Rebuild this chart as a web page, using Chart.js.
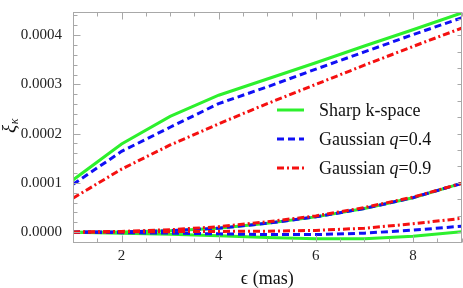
<!DOCTYPE html>
<html><head><meta charset="utf-8">
<script src="https://cdn.jsdelivr.net/npm/chart.js@4.4.1/dist/chart.umd.min.js"></script>
<style>html,body{margin:0;padding:0;background:#fff;overflow:hidden}#wrap{width:463px;height:288px}</style>
</head><body><div id="wrap"><canvas id="c" width="463" height="288"></canvas></div>
<script>
// ---- data ----
const epsilon = [1, 2, 3, 4, 5, 6, 7, 8, 9];
// upper branch
const sharpUpper = [1.06e-4, 1.79e-4, 2.35e-4, 2.78e-4, 3.11e-4, 3.44e-4, 3.78e-4, 4.11e-4, 4.45e-4];
const gaussQ04Upper = [0.97e-4, 1.64e-4, 2.13e-4, 2.61e-4, 2.95e-4, 3.31e-4, 3.66e-4, 4.01e-4, 4.35e-4];
const gaussQ09Upper = [0.69e-4, 1.28e-4, 1.77e-4, 2.20e-4, 2.61e-4, 3.00e-4, 3.39e-4, 3.77e-4, 4.14e-4];
// rising lower branch
const sharpRise = [0, 0.05e-5, 0.3e-5, 0.8e-5, 1.8e-5, 3.1e-5, 4.8e-5, 7.0e-5, 9.9e-5];
const gaussQ04Rise = [0, 0.05e-5, 0.3e-5, 0.8e-5, 1.8e-5, 3.1e-5, 4.8e-5, 7.0e-5, 9.9e-5];
const gaussQ09Rise = [0, 0.15e-5, 0.5e-5, 1.1e-5, 2.1e-5, 3.3e-5, 5.0e-5, 7.1e-5, 9.9e-5];
// flat lower branch
const sharpFlat = [0, -0.2e-5, -0.45e-5, -0.75e-5, -1.1e-5, -1.35e-5, -1.35e-5, -0.85e-5, 0.1e-5];
const gaussQ04Flat = [0, -0.1e-5, -0.2e-5, -0.35e-5, -0.5e-5, -0.5e-5, -0.2e-5, 0.4e-5, 1.2e-5];
const gaussQ09Flat = [0, 0.05e-5, 0.1e-5, 0.15e-5, 0.2e-5, 0.35e-5, 0.8e-5, 1.7e-5, 2.8e-5];

const xTicks = [2, 4, 6, 8];
const yTicks = [0, 0.0001, 0.0002, 0.0003, 0.0004];
const xRange = [1, 9];
const yRange = [-0.00002, 0.000447];
const xTitle = 'ϵ (mas)';
const yTitleMain = 'ξ';
const yTitleSub = 'κ';
const legendParts = [
  [{t: 'Sharp k-space'}],
  [{t: 'Gaussian '}, {t: 'q', i: true}, {t: '=0.4'}],
  [{t: 'Gaussian '}, {t: 'q', i: true}, {t: '=0.9'}]
];

// ---- styles ----
const GREEN = '#2df02d', BLUE = '#1010f5', RED = '#f51010';
const styles = [
  {color: GREEN, dash: [], order: 3},
  {color: BLUE, dash: [7, 4], order: 2},
  {color: RED, dash: [7, 3, 2, 3], order: 1}
];
const SERIF = '"Liberation Serif", "Times New Roman", serif';

function ds(values, s) {
  return {
    data: epsilon.map((e, i) => ({x: e, y: values[i]})),
    borderColor: s.color, borderWidth: 3, borderDash: s.dash,
    borderCapStyle: 'butt', pointRadius: 0, fill: false, tension: 0, order: s.order
  };
}
const datasets = [
  ds(sharpUpper, styles[0]), ds(sharpRise, styles[0]), ds(sharpFlat, styles[0]),
  ds(gaussQ04Upper, styles[1]), ds(gaussQ04Rise, styles[1]), ds(gaussQ04Flat, styles[1]),
  ds(gaussQ09Upper, styles[2]), ds(gaussQ09Rise, styles[2]), ds(gaussQ09Flat, styles[2])
];

const decor = {
  id: 'decor',
  afterDraw(chart) {
    const {ctx, chartArea: a, scales: {x, y}} = chart;
    ctx.save();
    ctx.strokeStyle = '#a8a8a8';
    ctx.lineWidth = 1;
    const L = Math.round(a.left) + 0.5, R = Math.round(a.right) - 0.5;
    const T = Math.round(a.top) + 0.5, B = Math.round(a.bottom) + 0.5;
    ctx.strokeRect(L, T, R - L, B - T);
    ctx.beginPath();
    const xs = 0.5;
    for (let k = Math.ceil(xRange[0] / xs); k <= Math.floor(xRange[1] / xs); k++) {
      const v = k * xs;
      const major = xTicks.some(t => Math.abs(t - v) < 1e-9);
      const len = major ? 7 : 4;
      const px = Math.round(x.getPixelForValue(v)) + 0.5;
      ctx.moveTo(px, B); ctx.lineTo(px, B - len);
      ctx.moveTo(px, T); ctx.lineTo(px, T + len);
    }
    const ys = 0.00002;
    for (let k = Math.ceil(yRange[0] / ys - 1e-9); k <= Math.floor(yRange[1] / ys + 1e-9); k++) {
      const v = k * ys;
      const major = yTicks.some(t => Math.abs(t - v) < 1e-12);
      const len = major ? 7 : 4;
      const py = Math.round(y.getPixelForValue(v)) + 0.5;
      ctx.moveTo(L, py); ctx.lineTo(L + len, py);
    }
    const rs = 0.0001 / 3;
    for (let k = Math.ceil(yRange[0] / rs); k <= Math.floor(yRange[1] / rs); k++) {
      const v = k * rs;
      const py = Math.round(y.getPixelForValue(v)) + 0.5;
      ctx.moveTo(R, py); ctx.lineTo(R - 4, py);
    }
    ctx.stroke();

    // y title
    ctx.save();
    ctx.translate(10, 126);
    ctx.rotate(-Math.PI / 2);
    ctx.fillStyle = '#111';
    ctx.textBaseline = 'alphabetic';
    ctx.font = 'italic 19px ' + SERIF;
    const w1 = ctx.measureText(yTitleMain).width;
    ctx.font = 'italic 12px ' + SERIF;
    const w2 = ctx.measureText(yTitleSub).width;
    const x0 = -(w1 + w2) / 2;
    ctx.font = 'italic 19px ' + SERIF;
    ctx.fillText(yTitleMain, x0, 5);
    ctx.font = 'italic 12px ' + SERIF;
    ctx.fillText(yTitleSub, x0 + w1 + 0.5, 8);
    ctx.restore();

    // legend
    const lx0 = 277, lx1 = 304, tx = 319, ly = [110, 139, 168];
    legendParts.forEach((parts, i) => {
      const s = styles[i];
      ctx.save();
      ctx.strokeStyle = s.color; ctx.lineWidth = 3; ctx.lineCap = 'butt';
      ctx.setLineDash(s.dash);
      ctx.beginPath(); ctx.moveTo(lx0, ly[i]); ctx.lineTo(lx1, ly[i]); ctx.stroke();
      ctx.restore();
      let cx = tx;
      ctx.fillStyle = '#111';
      ctx.textBaseline = 'middle';
      ctx.textAlign = 'left';
      parts.forEach(p => {
        ctx.font = (p.i ? 'italic ' : '') + '18px ' + SERIF;
        ctx.fillText(p.t, cx, ly[i] + 1);
        cx += ctx.measureText(p.t).width;
      });
    });
    ctx.restore();
  }
};

new Chart(document.getElementById('c'), {
  type: 'line',
  data: {datasets},
  options: {
    responsive: false, animation: false, devicePixelRatio: 1,
    layout: {padding: {left: 0, right: 1.5, top: 4, bottom: 0}},
    plugins: {legend: {display: false}, tooltip: {enabled: false}, title: {display: false}},
    scales: {
      x: {
        type: 'linear', min: xRange[0], max: xRange[1],
        afterBuildTicks: s => { s.ticks = xTicks.map(v => ({value: v})); },
        afterFit: s => { s.height = 46; },
        grid: {display: false}, border: {display: false},
        ticks: {font: {family: SERIF, size: 15}, color: '#222', padding: -3, maxRotation: 0, autoSkip: false},
        title: {display: true, text: xTitle, font: {family: SERIF, size: 18}, color: '#111', padding: {top: 0, bottom: -2}}
      },
      y: {
        type: 'linear', min: yRange[0], max: yRange[1],
        afterBuildTicks: s => { s.ticks = yTicks.map(v => ({value: v})); },
        afterFit: s => { s.width = 73; },
        grid: {display: false}, border: {display: false},
        ticks: {font: {family: SERIF, size: 15}, color: '#222', padding: 3, autoSkip: false,
          callback: v => v.toFixed(4)}
      }
    }
  },
  plugins: [decor]
});
</script></body></html>
